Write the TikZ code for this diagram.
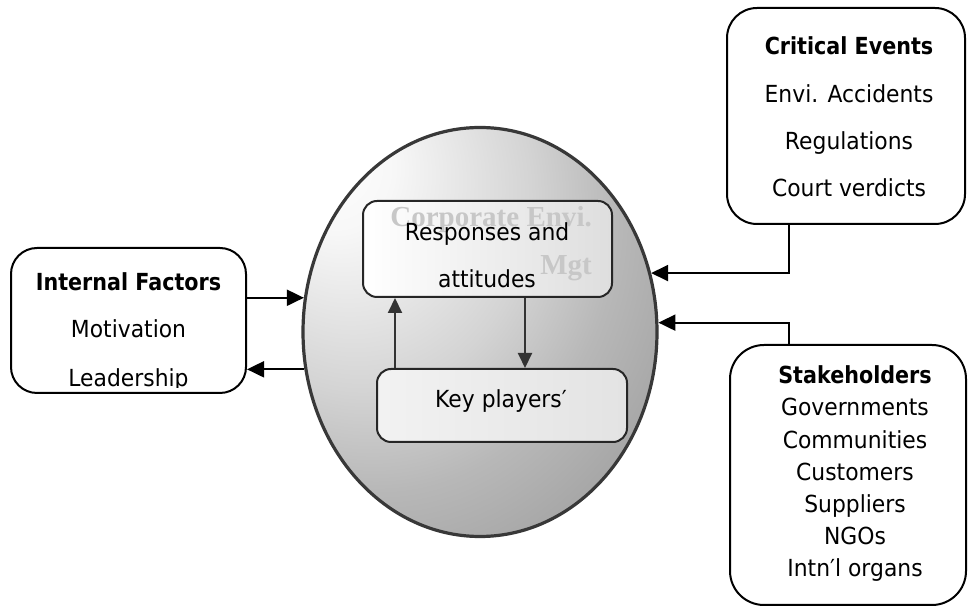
\documentclass[tikz,border=0pt]{standalone}
\usepackage{fontspec}
\setmainfont{DejaVu Sans}[FakeStretch=0.93, BoldFeatures={FakeStretch=0.88}]
\newfontfamily\serifbold{Liberation Serif}
\usetikzlibrary{shapes.geometric,arrows.meta,calc}
\pgfdeclareradialshading{coreshade}{\pgfpoint{-22bp}{22bp}}{color(0bp)=(white); color(8bp)=(white!97!black); color(24bp)=(black!17); color(34bp)=(black!28); color(50bp)=(black!40); color(100bp)=(black!44)}
\begin{document}
\begin{tikzpicture}[x=1pt,y=1pt,
  txt/.style={font=\fontsize{23.5}{28}\selectfont, anchor=base, inner sep=0pt},
  ttl/.style={txt, font=\fontsize{23.5}{28}\selectfont\bfseries},
  wmark/.style={font=\serifbold\bfseries\fontsize{29}{34}\selectfont, text=black!22, anchor=base east, inner sep=0pt},
  outbox/.style={draw=black, line width=2pt, rounded corners=30pt, fill=white, inner sep=0pt},
  inbox/.style={draw=black!85, line width=2pt, rounded corners=14pt, inner sep=0pt},
  conn/.style={draw=black, line width=2pt, -{Triangle[length=17pt,width=16pt]}},
  inarr/.style={draw=black!80, line width=2pt, -{Triangle[length=15pt,width=14pt]}}
]
\useasboundingbox (0,0) rectangle (968,607);

% central ellipse
\node[ellipse, draw=black!78, line width=3.2pt, shading=coreshade,
      minimum width=354pt, minimum height=409pt, inner sep=0pt] (core) at (480,275) {};

% inner boxes
\node[inbox, left color=white, right color=black!13, minimum width=249pt, minimum height=96pt] (resp) at (487.5,358) {};
\node[inbox, left color=black!5, right color=black!11, minimum width=250pt, minimum height=73pt] (key) at (502,201.5) {};

% watermark text
\node[wmark] (wm1) at (592,380) {Corporate Envi.};
\node[wmark] (wm2) at (592,332) {Mgt};

% inner texts
\node[txt] (r1t) at (487,366) {Responses and};
\node[txt] (r2t) at (487,319) {attitudes};
\node[txt] (k1t) at (501,199) {Key players′};

% outer boxes
\node[outbox, minimum width=235pt, minimum height=145pt, rounded corners=26pt] (intf) at (128.5,286.5) {};
\node[outbox, minimum width=238pt, minimum height=216pt] (crit) at (846,491) {};
\node[outbox, minimum width=236pt, minimum height=260pt, rounded corners=34pt] (stake) at (848,132) {};

% internal factors text
\node[ttl] (it1) at (128.5,316) {Internal Factors};
\node[txt] (it2) at (128.5,269) {Motivation};
\begin{scope}
\clip (0,219) rectangle (968,607);
\node[txt] (it3) at (128.5,220) {Leadership};
\end{scope}

% critical events text
\node[ttl] (ct1) at (849,552) {Critical Events};
\node[txt] (ct2) at (849,504) {Envi. Accidents};
\node[txt] (ct3) at (849,457) {Regulations};
\node[txt] (ct4) at (849,410) {Court verdicts};

% stakeholders text
\node[ttl] (st1) at (855,223) {Stakeholders};
\node[txt] (st2) at (855,191) {Governments};
\node[txt] (st3) at (855,158.5) {Communities};
\node[txt] (st4) at (855,126) {Customers};
\node[txt] (st5) at (855,94) {Suppliers};
\node[txt] (st6) at (855,62) {NGOs};
\node[txt] (st7) at (855,30) {Intn′l organs};

% inner arrows
\coordinate (kup) at ([xshift=-107pt]key.north);
\coordinate (rdn) at ([xshift=37.5pt]resp.south);
\draw[inarr] (kup) -- (kup |- resp.south);
\draw[inarr] (rdn) -- (rdn |- key.north);

% outer connectors
\draw[conn] (intf.east |- core.169) -- (core.169);
\draw[conn] (core.192.3) -- (core.192.3 -| intf.east);
\coordinate (cfoot) at ([xshift=-57pt]crit.south);
\coordinate (shead) at ([xshift=-59pt]stake.north);
\draw[conn] (cfoot) |- (core.19.2);
\draw[conn] (shead) |- (core.3.2);
\end{tikzpicture}
\end{document}
